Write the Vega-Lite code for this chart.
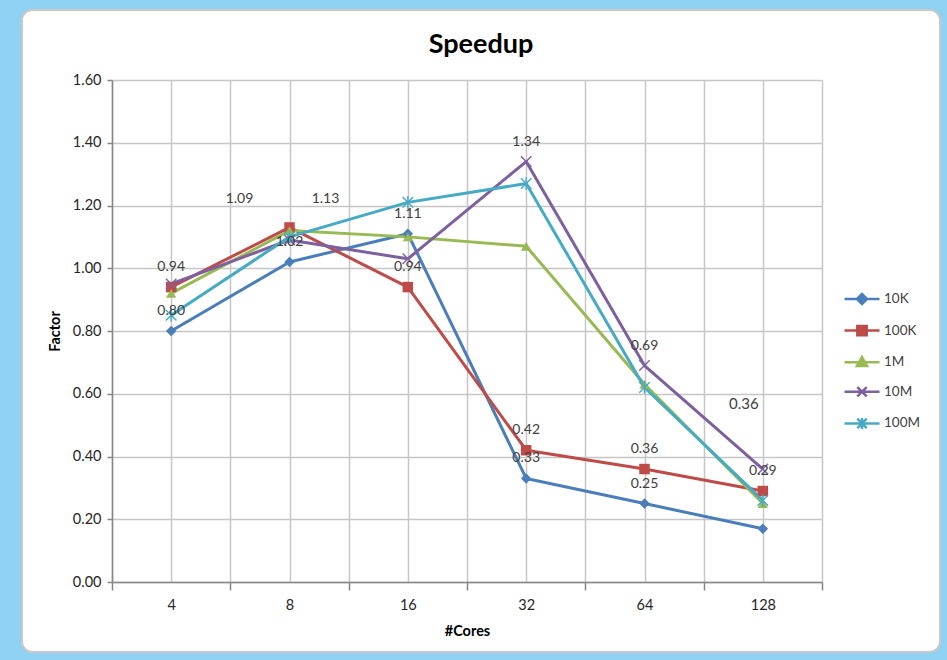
{
  "$schema": "https://vega.github.io/schema/vega-lite/v6.json",
  "width": 918,
  "height": 642,
  "autosize": {"type": "none"},
  "padding": {"left": 22, "top": 10, "right": 7, "bottom": 8},
  "background": "#8fd2f3",
  "config": {
    "font": "Lato",
    "view": {"fill": "#ffffff", "stroke": "#c8c8c8", "strokeWidth": 2, "cornerRadius": 10},
    "legend": {
      "orient": "none",
      "legendX": 830,
      "legendY": 279,
      "padding": 0,
      "symbolSize": 289,
      "symbolStrokeWidth": 2.5,
      "symbolOpacity": 1,
      "labelFontSize": 13.5,
      "labelColor": "#404040",
      "labelOffset": 12,
      "rowPadding": 10.6
    }
  },
  "title": {
    "text": "Speedup",
    "font": "Lato",
    "fontSize": 27,
    "fontWeight": "bold",
    "color": "#000000",
    "anchor": "middle",
    "frame": "group",
    "baseline": "alphabetic",
    "offset": -70
  },
  "data": {
    "values": [
      {"series": "10K", "cores": 4, "factor": 0.80},
      {"series": "10K", "cores": 8, "factor": 1.02},
      {"series": "10K", "cores": 16, "factor": 1.11},
      {"series": "10K", "cores": 32, "factor": 0.33},
      {"series": "10K", "cores": 64, "factor": 0.25},
      {"series": "10K", "cores": 128, "factor": 0.17},
      {"series": "100K", "cores": 4, "factor": 0.94},
      {"series": "100K", "cores": 8, "factor": 1.13},
      {"series": "100K", "cores": 16, "factor": 0.94},
      {"series": "100K", "cores": 32, "factor": 0.42},
      {"series": "100K", "cores": 64, "factor": 0.36},
      {"series": "100K", "cores": 128, "factor": 0.29},
      {"series": "1M", "cores": 4, "factor": 0.92},
      {"series": "1M", "cores": 8, "factor": 1.12},
      {"series": "1M", "cores": 16, "factor": 1.10},
      {"series": "1M", "cores": 32, "factor": 1.07},
      {"series": "1M", "cores": 64, "factor": 0.63},
      {"series": "1M", "cores": 128, "factor": 0.25},
      {"series": "10M", "cores": 4, "factor": 0.95},
      {"series": "10M", "cores": 8, "factor": 1.09},
      {"series": "10M", "cores": 16, "factor": 1.03},
      {"series": "10M", "cores": 32, "factor": 1.34},
      {"series": "10M", "cores": 64, "factor": 0.69},
      {"series": "10M", "cores": 128, "factor": 0.36},
      {"series": "100M", "cores": 4, "factor": 0.85},
      {"series": "100M", "cores": 8, "factor": 1.10},
      {"series": "100M", "cores": 16, "factor": 1.21},
      {"series": "100M", "cores": 32, "factor": 1.27},
      {"series": "100M", "cores": 64, "factor": 0.62},
      {"series": "100M", "cores": 128, "factor": 0.26}
    ]
  },
  "encoding": {
    "x": {
      "field": "cores",
      "type": "quantitative",
      "scale": {"type": "log", "base": 2, "domain": [2.8284, 181.0193], "range": [90, 800], "nice": false},
      "axis": {
        "title": "#Cores",
        "titleFontSize": 14.5,
        "titleFontWeight": "bold",
        "titleColor": "#000000",
        "titlePadding": 13,
        "values": [2.8284, 4, 5.6569, 8, 11.3137, 16, 22.6274, 32, 45.2548, 64, 90.5097, 128, 181.0193],
        "labelExpr": "indexof([4, 8, 16, 32, 64, 128], datum.value) >= 0 ? datum.value + '' : ''",
        "labelFontSize": 14.5,
        "labelColor": "#262626",
        "labelPadding": 8,
        "labelOverlap": false,
        "labelFlush": false,
        "offset": -70,
        "domainColor": "#868686",
        "domainWidth": 1.5,
        "tickColor": "#868686",
        "tickWidth": 1.5,
        "tickSize": 8,
        "tickOpacity": {"condition": {"test": "indexof([4, 8, 16, 32, 64, 128], datum.value) >= 0", "value": 0}, "value": 1},
        "grid": true,
        "gridColor": "#c6c6c6",
        "gridWidth": 1.5
      }
    },
    "y": {
      "field": "factor",
      "type": "quantitative",
      "scale": {"domain": [0, 1.6], "range": [572, 70], "nice": false, "zero": false},
      "axis": {
        "title": "Factor",
        "titleFontSize": 14.5,
        "titleFontWeight": "bold",
        "titleColor": "#000000",
        "titlePadding": 10,
        "values": [0, 0.2, 0.4, 0.6, 0.8, 1.0, 1.2, 1.4, 1.6],
        "format": ".2f",
        "labelFontSize": 14.5,
        "labelColor": "#262626",
        "labelPadding": 6,
        "offset": -90,
        "domainColor": "#868686",
        "domainWidth": 1.5,
        "tickColor": "#868686",
        "tickWidth": 1.5,
        "tickSize": 5,
        "grid": true,
        "gridColor": "#c6c6c6",
        "gridWidth": 1.5
      }
    },
    "color": {
      "field": "series",
      "type": "nominal",
      "scale": {
        "domain": ["10K", "100K", "1M", "10M", "100M"],
        "range": ["#4a7ebb", "#be4b48", "#98b954", "#7d60a0", "#46aac5"]
      },
      "legend": {"title": null}
    }
  },
  "layer": [
    {
      "mark": {"type": "line", "strokeWidth": 3, "strokeJoin": "round"}
    },
    {
      "description": "Empty layer that only supplies the line-with-marker legend symbols",
      "transform": [{"filter": "false"}],
      "mark": {"type": "point", "filled": true, "opacity": 1},
      "encoding": {
        "shape": {
          "field": "series",
          "type": "nominal",
          "scale": {
            "domain": ["10K", "100K", "1M", "10M", "100M"],
            "range": [
              "M-2.06,0H2.06M-0.6,0L0,-0.6L0.6,0L0,0.6Z",
              "M-2.06,0H2.06M-0.55,-0.55H0.55V0.55H-0.55Z",
              "M-2.06,0H2.06M0,-0.6L0.6,0.45L-0.6,0.45Z",
              "M-2.06,0H2.06M-0.55,-0.55L0.55,0.55M-0.55,0.55L0.55,-0.55",
              "M-2.06,0H2.06M-0.55,-0.55L0.55,0.55M-0.55,0.55L0.55,-0.55M0,-0.65V0.65"
            ]
          },
          "legend": {"title": null}
        }
      }
    },
    {
      "transform": [{"filter": "datum.series === '10K'"}],
      "mark": {"type": "point", "shape": "diamond", "filled": true, "size": 110, "opacity": 1}
    },
    {
      "transform": [{"filter": "datum.series === '100K'"}],
      "mark": {"type": "point", "shape": "square", "filled": true, "size": 110, "opacity": 1}
    },
    {
      "transform": [{"filter": "datum.series === '1M'"}],
      "mark": {"type": "point", "shape": "triangle-up", "filled": true, "size": 105, "opacity": 1}
    },
    {
      "transform": [{"filter": "datum.series === '10M'"}],
      "mark": {"type": "point", "shape": "M-1,-1L1,1M-1,1L1,-1", "filled": false, "size": 110, "strokeWidth": 1.4, "opacity": 1}
    },
    {
      "transform": [{"filter": "datum.series === '100M'"}],
      "mark": {"type": "point", "shape": "M-1,-1L1,1M-1,1L1,-1M0,-1.2L0,1.2", "filled": false, "size": 110, "strokeWidth": 1.4, "opacity": 1}
    },
    {
      "transform": [
        {"filter": "(datum.series === '10K' && datum.cores <= 64) || (datum.series === '100K' && datum.cores !== 8) || (datum.series === '10M' && (datum.cores === 32 || datum.cores === 64))"}
      ],
      "mark": {"type": "text", "dy": -20, "fontSize": 14},
      "encoding": {
        "text": {"field": "factor", "type": "quantitative", "format": ".2f"},
        "color": {"value": "#404040"}
      }
    },
    {
      "transform": [{"filter": "datum.series === '100K' && datum.cores === 8"}],
      "mark": {"type": "text", "dx": 36, "dy": -28, "fontSize": 14},
      "encoding": {
        "text": {"field": "factor", "type": "quantitative", "format": ".2f"},
        "color": {"value": "#404040"}
      }
    },
    {
      "transform": [{"filter": "datum.series === '10M' && datum.cores === 8"}],
      "mark": {"type": "text", "dx": -50, "dy": -41, "fontSize": 14},
      "encoding": {
        "text": {"field": "factor", "type": "quantitative", "format": ".2f"},
        "color": {"value": "#404040"}
      }
    },
    {
      "transform": [{"filter": "datum.series === '10M' && datum.cores === 128"}],
      "mark": {"type": "text", "dx": -19, "dy": -65, "fontSize": 15},
      "encoding": {
        "text": {"field": "factor", "type": "quantitative", "format": ".2f"},
        "color": {"value": "#404040"}
      }
    }
  ]
}
